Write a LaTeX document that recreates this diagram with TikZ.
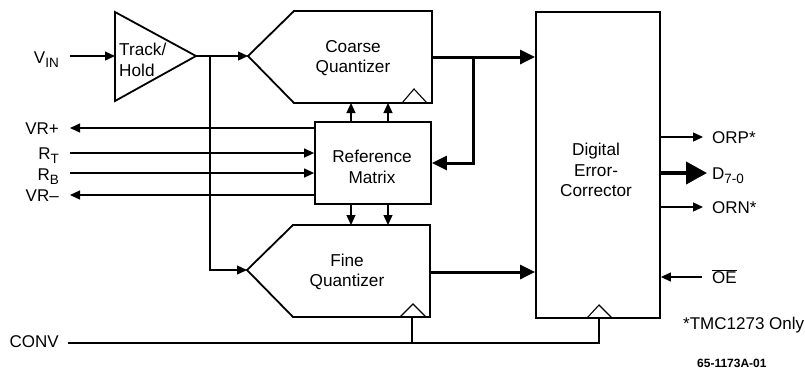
\documentclass[tikz,border=0pt]{standalone}
\usepackage{fontspec}
\setmainfont{Liberation Sans}
\usetikzlibrary{arrows.meta}
\newcommand\sbs[1]{\raisebox{-4.5pt}{\fontsize{13.5}{13.5}\selectfont #1}}
\begin{document}
\begin{tikzpicture}[x=1pt,y=-1pt,
  box/.style={draw, line width=1.8pt, line join=miter},
  txt/.style={font=\fontsize{17.2}{20.5}\selectfont, inner sep=0pt, align=center},
  thin/.style={line width=1.3pt},
  sig/.style={thin, -{Triangle[length=10pt,width=9pt]}},
  bus/.style={line width=3pt, -{Triangle[length=15pt,width=14pt]}},
  bigbus/.style={line width=4pt, -{Triangle[length=21pt,width=22pt]}},
  clk/.style={line width=1.1pt, line join=miter},
  lab/.style={font=\fontsize{17}{20}\selectfont, inner sep=0pt, anchor=base east}
]
\useasboundingbox (0,0) rectangle (805,368);

% ---- Track/Hold
\draw[box] (115,12) -- (196,56) -- (115,101) -- cycle;
\node[txt, align=left, anchor=west] (th) at (119,60) {Track/\\Hold};
\coordinate (thin) at (115,56);
\coordinate (thout) at (196,56);
\coordinate (vin) at (70,56);
\coordinate (br) at (210,56);
\coordinate (brd) at (210,270);

% ---- Coarse quantizer
\draw[box] (248,56) -- (294,11) -- (432,11) -- (432,103) -- (294,103) -- cycle;
\draw[clk] (402,103) -- (414,89) -- (427,103);
\node[txt] (cq) at (353,58) {Coarse\\Quantizer};
\coordinate (cqin) at (248,56);
\coordinate (cqout) at (432,57);
\coordinate (cqb1) at (351,103);
\coordinate (cqb2) at (388,103);

% ---- Reference matrix
\node[box, minimum width=116pt, minimum height=82pt, inner sep=0pt] (rm) at (373,163) {};
\node[txt] (rmt) at (372,167) {Reference\\Matrix};

% ---- Fine quantizer
\draw[box] (247,270) -- (293,225) -- (430,225) -- (430,317) -- (293,317) -- cycle;
\draw[clk] (400,317) -- (413,304) -- (426,317);
\node[txt] (fq) at (347,272) {Fine\\Quantizer};
\coordinate (fqin) at (247,270);
\coordinate (fqout) at (430,272);
\coordinate (fqt1) at (351,225);
\coordinate (fqt2) at (388,225);
\coordinate (fqclk) at (412,317);

% ---- Digital error corrector
\node[box, minimum width=124pt, minimum height=306pt, inner sep=0pt] (dec) at (598,165) {};
\node[txt] (dect) at (596,170) {Digital\\Error-\\Corrector};
\coordinate (declk) at (599,318);
\draw[clk] (587,318) -- (599,305) -- (612,318);

% ---- signal paths
\node[lab] (lvin) at (59,63) {V\sbs{IN}};
\draw[sig] (vin) -- (thin);
\draw[thin] (thout) -- (br);
\draw[sig] (br) -- (cqin);
\draw[sig] (br) -- (brd) -- (fqin);

\draw[bus] (cqout) -- (cqout -| dec.west);
\coordinate (bb) at (473,57);
\draw[bus] (bb) -- (473,163) -- (rm.east);
\draw[bus] (fqout) -- (fqout -| dec.west);

\draw[sig] (rm.north -| cqb1) -- (cqb1);
\draw[sig] (rm.north -| cqb2) -- (cqb2);
\draw[sig] (rm.south -| fqt1) -- (fqt1);
\draw[sig] (rm.south -| fqt2) -- (fqt2);

% left reference pins
\coordinate (vrp) at (70,128);
\coordinate (rt) at (70,153);
\coordinate (rb) at (70,173);
\coordinate (vrm) at (70,195);
\node[lab] (lvrp) at (59,134) {VR+};
\node[lab] (lrt) at (59,159) {R\sbs{T}};
\node[lab] (lrb) at (59,180) {R\sbs{B}};
\node[lab] (lvrm) at (59,201) {VR\textendash};
\draw[sig] (rm.west |- vrp) -- (vrp);
\draw[sig] (rt) -- (rm.west |- rt);
\draw[sig] (rb) -- (rm.west |- rb);
\draw[sig] (rm.west |- vrm) -- (vrm);

% CONV
\coordinate (conv) at (68,343);
\coordinate (cj) at (412,343);
\node[lab] (lconv) at (59,347) {CONV};
\draw[thin] (conv) -- (declk |- conv) -- (declk);
\draw[thin] (cj) -- (fqclk);

% outputs
\coordinate (orp) at (703,137);
\coordinate (dout) at (707,173);
\coordinate (orn) at (703,207);
\coordinate (oe) at (702,277);
\draw[sig] (dec.east |- orp) -- (orp);
\draw[bigbus] (dec.east |- dout) -- (dout);
\draw[sig] (dec.east |- orn) -- (orn);
\draw[sig] (oe) -- (dec.east |- oe);
\node[lab, anchor=base west] (lorp) at (712,143) {ORP*};
\node[lab, anchor=base west] (ld) at (712,179) {D\sbs{7-0}};
\node[lab, anchor=base west] (lorn) at (712,213) {ORN*};
\node[lab, anchor=base west] (loe) at (712,283) {$\overline{\hbox{OE}}$};
\node[lab, anchor=base west] (note) at (683,329) {*TMC1273 Only};
\node[font=\bfseries\fontsize{12}{12}\selectfont, inner sep=0pt, anchor=base west] (code) at (697,367) {65-1173A-01};
\end{tikzpicture}
\end{document}
